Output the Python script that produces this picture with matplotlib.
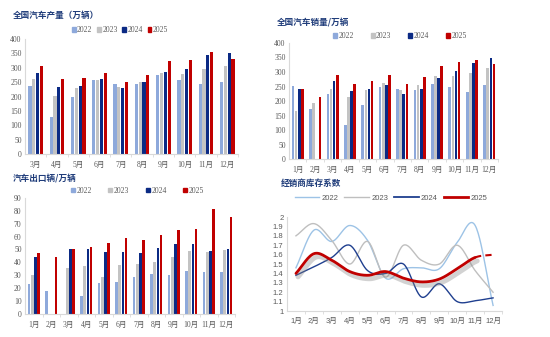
import numpy as np
import matplotlib
matplotlib.use('Agg')
import matplotlib.pyplot as plt
import matplotlib.patheffects as pe
from matplotlib.patches import Patch
from matplotlib.lines import Line2D

plt.rcParams['font.family'] = ['Liberation Serif', 'Noto Sans CJK SC']

nan = np.nan
years = ['2022', '2023', '2024', '2025']
bar_colors = ['#8EA9DB', '#C3C3C3', '#0B2A84', '#C00000']
line_colors = ['#9DC3E6', '#BFBFBF', '#1F3F8F', '#C00000']

# production (万辆), Mar-Dec
prod_months = ['3月', '4月', '5月', '6月', '7月', '8月', '9月', '10月', '11月', '12月']
prod_2022 = [238, 128, 199, 258, 244, 242, 275, 256, 243, 250]
prod_2023 = [260, 202, 230, 257, 233, 251, 283, 278, 295, 304]
prod_2024 = [280, 234, 235, 262, 229, 251, 284, 296, 345, 351]
prod_2025 = [304, 260, 265, 281, 252, 275, 324, 328, 353, 331]

months = ['1月', '2月', '3月', '4月', '5月', '6月', '7月', '8月', '9月', '10月', '11月', '12月']

# sales (万辆)
sales_2022 = [251, 173, 223, 118, 185, 249, 240, 237, 259, 249, 231, 255]
sales_2023 = [166, 195, 243, 215, 237, 261, 238, 256, 285, 285, 296, 314]
sales_2024 = [243, nan, 269, 235, 241, 254, 226, 243, 279, 304, 330, 347]
sales_2025 = [243, 213, 290, 258, 269, 289, 258, 283, 321, 333, 342, 326]

# exports (万辆)
exp_2022 = [23, 18, nan, 14, 24, 24.7, 29, 30.7, 30, 33.5, 32.7, 32.5]
exp_2023 = [30, nan, 36, 37.4, 28.5, 38, 39, 40.5, 44, 48.5, 48, 49.5]
exp_2024 = [44, nan, 50, 50, 48, 48.2, 47, 51, 54, 54, 49, 50]
exp_2025 = [47, 44, 50.5, 51.5, 54.6, 59, 57.5, 61, 65, 66, 81, 75]

# dealer inventory coefficient
inv_2022 = [1.46, 1.86, 1.74, 1.91, 1.75, 1.35, 1.45, 1.46, 1.45, 1.73, 1.91, 1.06]
inv_2023 = [1.80, 1.93, 1.75, 1.50, 1.74, 1.36, 1.70, 1.54, 1.50, 1.70, 1.43, 1.20]
inv_2024 = [1.38, 1.47, 1.57, 1.70, 1.43, 1.40, 1.50, 1.15, 1.29, 1.10, 1.11, 1.14]
inv_2025 = [1.40, 1.61, 1.54, 1.42, 1.38, 1.42, 1.35, 1.31, 1.34, 1.45, 1.57, 1.60]

TITLE_C = '#1F3C7A'
TICK_C = '#595959'
SPINE_C = '#D9D9D9'


def style_axes(ax, n):
    for s in ['top', 'right']:
        ax.spines[s].set_visible(False)
    for s in ['left', 'bottom']:
        ax.spines[s].set_color(SPINE_C)
        ax.spines[s].set_linewidth(0.8)
    ax.set_xlim(-0.5, n - 0.5)
    ax.tick_params(axis='both', labelsize=5.5, colors=TICK_C, length=0, pad=2.5)
    ax.tick_params(axis='x', pad=5)
    ax.set_xticks(np.arange(n) + 0.5, minor=True)
    ax.tick_params(axis='x', which='minor', length=2, color=SPINE_C)


def bar_panel(ax, labels, series, ymax, step, legend_xy, colspace):
    x = np.arange(len(labels))
    w, pitch = 0.15, 0.18
    for i, (vals, c) in enumerate(zip(series, bar_colors)):
        ax.bar(x + (i - 1.5) * pitch, vals, width=w, color=c, zorder=2)
    style_axes(ax, len(labels))
    ax.set_ylim(0, ymax)
    ax.set_yticks(np.arange(0, ymax + 1, step))
    ax.set_xticks(x)
    ax.set_xticklabels(labels)
    handles = [Patch(color=c) for c in bar_colors]
    ax.legend(handles, years, loc='center', bbox_to_anchor=legend_xy, ncol=4,
              frameon=False, fontsize=5.5, handlelength=0.5, handleheight=0.5,
              handletextpad=0.2, columnspacing=colspace, labelcolor=TICK_C)


def smooth(y, per=24):
    # Catmull-Rom curve through the points, like Excel's smoothed line
    p = np.column_stack([np.arange(len(y)), y]).astype(float)
    ext = np.vstack([p[0] - (p[1] - p[0]), p, p[-1] + (p[-1] - p[-2])])
    out = []
    for k in range(1, len(ext) - 2):
        p0, p1, p2, p3 = ext[k - 1], ext[k], ext[k + 1], ext[k + 2]
        t = np.linspace(0, 1, per, endpoint=False)[:, None]
        seg = 0.5 * ((2 * p1) + (-p0 + p2) * t + (2 * p0 - 5 * p1 + 4 * p2 - p3) * t ** 2
                     + (-p0 + 3 * p1 - 3 * p2 + p3) * t ** 3)
        out.append(seg)
    out.append(p[-1][None, :])
    return np.vstack(out)


fig = plt.figure(figsize=(5.5, 3.37), dpi=100)

ax1 = fig.add_axes([0.0455, 0.542, 0.387, 0.343])
bar_panel(ax1, prod_months, [prod_2022, prod_2023, prod_2024, prod_2025],
          400, 50, (0.446, 1.075), 0.6)

ax2 = fig.add_axes([0.5255, 0.527, 0.38, 0.346])
bar_panel(ax2, months, [sales_2022, sales_2023, sales_2024, sales_2025],
          400, 50, (0.53, 1.057), 2.2)

ax3 = fig.add_axes([0.0455, 0.0682, 0.382, 0.345])
bar_panel(ax3, months, [exp_2022, exp_2023, exp_2024, exp_2025],
          90, 10, (0.535, 1.058), 2.2)

ax4 = fig.add_axes([0.5218, 0.077, 0.391, 0.279])
x = np.arange(12)
for vals, c in zip([inv_2022, inv_2023, inv_2024], line_colors[:3]):
    pts = smooth(vals)
    ax4.plot(pts[:, 0], pts[:, 1], color=c, lw=1.0, zorder=2)
pts = smooth(inv_2025)
solid = pts[pts[:, 0] <= 10]
dash = pts[pts[:, 0] >= 10]
shadow = [pe.SimpleLineShadow(offset=(1.5, -2.5), shadow_color='#808080', alpha=0.35,
                              linewidth=3.5), pe.Normal()]
ax4.plot(solid[:, 0], solid[:, 1], color=line_colors[3], lw=2.0, zorder=3,
         solid_capstyle='round', path_effects=shadow)
ax4.plot(dash[:, 0], dash[:, 1], color=line_colors[3], lw=1.5, ls=(0, (3, 2)), zorder=3)
style_axes(ax4, 12)
ax4.set_ylim(1, 2)
ax4.set_yticks(np.round(np.arange(1, 2.01, 0.1), 1))
ax4.set_yticklabels(['1', '1.1', '1.2', '1.3', '1.4', '1.5', '1.6', '1.7', '1.8', '1.9', '2'])
ax4.set_xticks(x)
ax4.set_xticklabels(months)
for lab in ax4.get_xticklabels() + ax4.get_yticklabels():
    lab.set_family(['Liberation Sans', 'Noto Sans CJK SC'])
handles = [Line2D([], [], color=c, lw=lw) for c, lw in zip(line_colors, [1, 1, 1.3, 2])]
ax4.legend(handles, years, loc='center', bbox_to_anchor=(0.484, 1.2), ncol=4,
           frameon=False, fontsize=5.5, handlelength=3.2, handletextpad=0.3,
           columnspacing=0.8, labelcolor=TICK_C,
           prop={'family': ['Liberation Sans'], 'size': 5.5})

title_kw = dict(color=TITLE_C, fontsize=6.2, fontweight='bold', va='center',
                family=['Noto Sans CJK SC'])
fig.text(13 / 550, 1 - 15 / 337, '全国汽车产量（万辆）', **title_kw)
fig.text(277 / 550, 1 - 22 / 337, '全国汽车销量/万辆', **title_kw)
fig.text(13 / 550, 1 - 178 / 337, '汽车出口辆/万辆', **title_kw)
fig.text(281 / 550, 1 - 183 / 337, '经销商库存系数', **title_kw)

fig.savefig('out.png', dpi=100)
